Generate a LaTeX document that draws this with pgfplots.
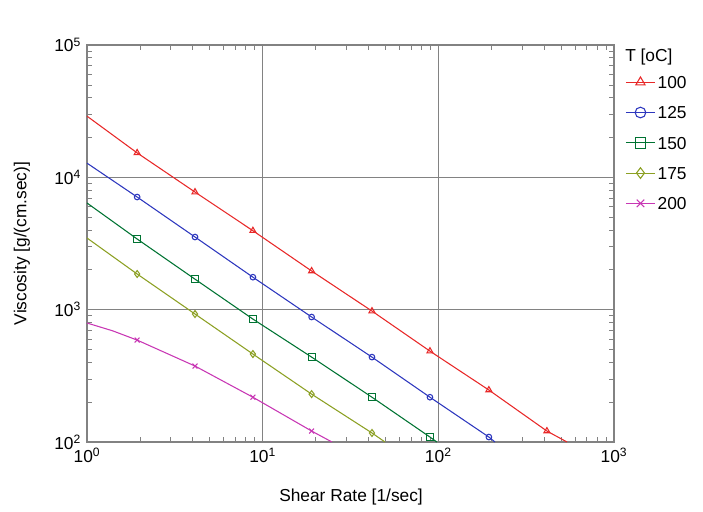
\documentclass[border=0pt]{standalone}
\usepackage{fontspec}
\setmainfont{Liberation Sans}
\usepackage{pgfplots}
\pgfplotsset{compat=1.18}

\definecolor{cRed}{RGB}{232,40,40}
\definecolor{cBlue}{RGB}{45,55,190}
\definecolor{cGreen}{RGB}{0,115,50}
\definecolor{cOlive}{RGB}{140,160,35}
\definecolor{cMag}{RGB}{200,55,180}
\definecolor{cTitle}{RGB}{170,50,160}
\definecolor{cTime}{RGB}{0,115,60}
\definecolor{cGrid}{RGB}{130,130,130}

\begin{document}
\fontsize{13}{15}\selectfont
\begin{tikzpicture}
\useasboundingbox (-65.25pt,-51.75pt) rectangle (462pt,331.5pt);
\begin{axis}[
  at={(0,0)}, anchor=south west,
  scale only axis, width=395.25pt, height=297.75pt,
  xmode=log, ymode=log,
  xmin=1, xmax=1000, ymin=100, ymax=100000,
  xtick={1,10,100,1000},
  ytick={100,1000,10000,100000},
  xticklabels={10\textsuperscript{0},10\textsuperscript{1},10\textsuperscript{2},10\textsuperscript{3}},
  yticklabels={10\textsuperscript{2},10\textsuperscript{3},10\textsuperscript{4},10\textsuperscript{5}},
  tick label style={font=\fontsize{13}{15}\selectfont},
  label style={font=\fontsize{13}{15}\selectfont},
  xlabel={Shear Rate [1/sec]},
  ylabel={Viscosity [g/(cm.sec)]},
  xlabel style={at={(axis description cs:0.501,-0.1385)}, anchor=center},
  ylabel style={at={(axis description cs:-0.1233,0.5)}, anchor=center},
  grid=major,
  major grid style={cGrid, line width=0.6pt},
  axis line style={cGrid, line width=0.8pt},
  tick style={cGrid, line width=0.5pt},
  tick align=inside,
  major tick length=4pt, minor tick length=4pt,
  clip=true,
  legend style={at={(axis description cs:1,1)}, anchor=north west,
    xshift=8.25pt, yshift=-21.5pt, draw=none, fill=none, inner sep=0pt,
    row sep=10.2pt,
    nodes={text height=9.5pt, text depth=0pt, inner sep=1.5pt,
      font=\fontsize{13}{15}\selectfont}},
  legend cell align=left,
  legend image code/.code={\draw[mark indices={2}]
    plot coordinates {(0pt,0pt)(11pt,0pt)(22pt,0pt)};},
  legend image post style={mark size=4pt},
  every axis plot/.append style={line width=0.8pt, mark options={solid, line width=0.8pt}},
]
% T = 100
\addplot[cRed, mark=triangle, mark size=2.6pt, mark indices={2,3,4,5,6,7,8,9}] coordinates {
  (1,29000) (1.93,15300) (4.12,7740) (8.8,3950) (19,1960)
  (41.9,976) (89.6,486) (194,247) (415,121) (540,100)};
\addlegendentry{100}
% T = 125
\addplot[cBlue, mark=o, mark size=2.1pt, mark indices={2,3,4,5,6,7,8}] coordinates {
  (1,12800) (1.93,7100) (4.12,3540) (8.8,1760) (19,880)
  (41.9,438) (89.6,218) (194,109) (210,100)};
\addlegendentry{125}
% T = 150
\addplot[cGreen, mark=square, mark size=2.6pt, mark indices={2,3,4,5,6,7}] coordinates {
  (1,6400) (1.93,3420) (4.12,1700) (8.8,849) (19,438)
  (41.9,218) (89.6,109) (98,100)};
\addlegendentry{150}
% T = 175
\addplot[cOlive, mark=diamond, mark size=2.6pt, mark indices={2,3,4,5,6}] coordinates {
  (1,3480) (1.93,1860) (4.12,927) (8.8,462) (19,230)
  (41.9,117) (49.7,100)};
\addlegendentry{175}
% T = 200
\addplot[cMag, mark=x, mark size=2.6pt, mark indices={3,4,5,6}] coordinates {
  (1,793) (1.4,692) (1.93,589) (4.12,375) (8.8,218) (19,121) (24.8,100)};
\addlegendentry{200}

\node[anchor=base west, text=cTitle, font=\fontsize{13}{15}\selectfont]
  at (axis description cs:0,1) [xshift=3.75pt, yshift=9pt] {Epoxy};
\node[anchor=base east, text=cTime, font=\fontsize{13}{15}\selectfont]
  at (axis description cs:1,1) [xshift=46.5pt, yshift=9pt] {Time =\ \ 1.0 sec};
\end{axis}
\node[anchor=west, font=\fontsize{13}{15}\selectfont, inner sep=0pt]
  at (403.5pt,288.75pt) {T [oC]};
\end{tikzpicture}
\end{document}
